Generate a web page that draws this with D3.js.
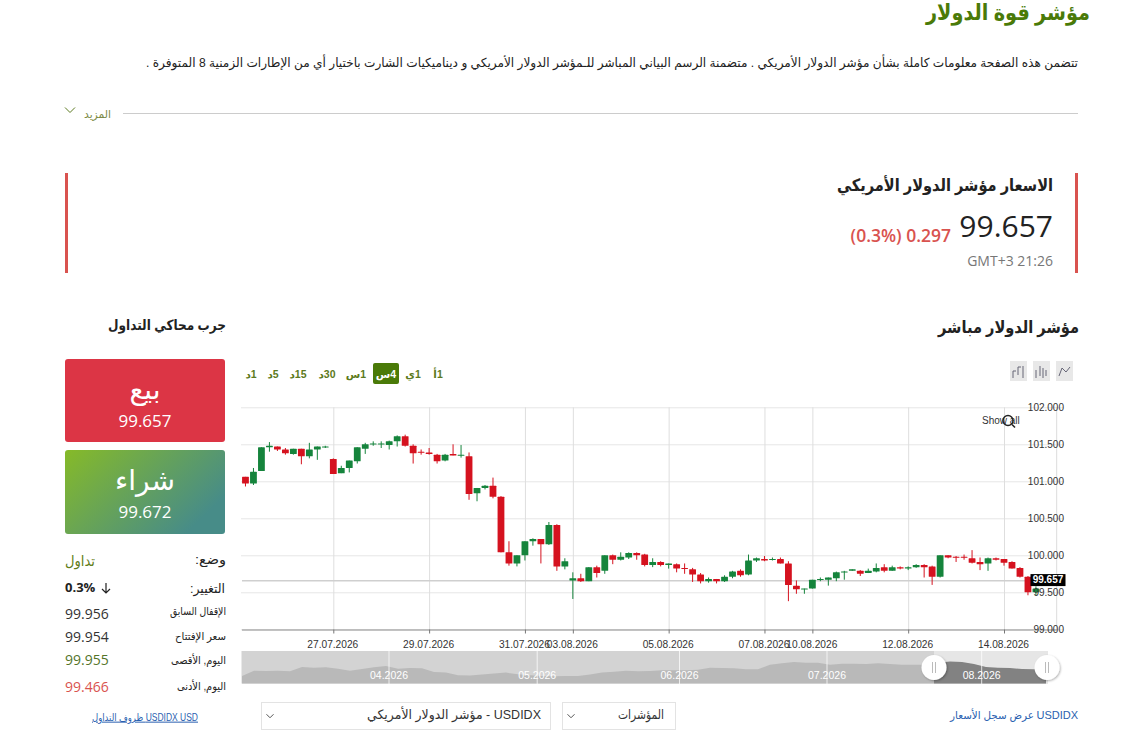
<!DOCTYPE html>
<html lang="ar"><head><meta charset="utf-8">
<script src="https://cdn.jsdelivr.net/npm/d3@7/dist/d3.min.js"></script>
<style>html,body{margin:0;padding:0;background:#fff;overflow:hidden}svg{display:block}</style>
</head><body><svg id="c" width="1123" height="736"></svg>
<script>
// ---------- data ----------
const candleOpen=[101.06,100.97,101.14,101.46,101.47,101.43,101.37,101.44,101.34,101.43,101.46,101.30,101.11,101.18,101.27,101.44,101.50,101.50,101.49,101.54,101.61,101.48,101.40,101.39,101.36,101.28,101.37,101.35,101.34,100.84,100.91,100.94,100.79,100.04,99.89,100.00,100.19,100.22,100.15,100.41,99.85,99.66,99.69,99.65,99.84,99.79,100.00,99.94,99.97,100.03,100.01,99.87,99.91,99.87,99.88,99.83,99.81,99.74,99.65,99.68,99.65,99.71,99.79,99.74,99.93,99.95,99.94,99.95,99.89,99.59,99.54,99.55,99.67,99.67,99.69,99.77,99.79,99.79,99.76,99.78,99.84,99.79,99.84,99.82,99.84,99.87,99.85,99.71,100.00,99.98,99.98,99.96,99.91,99.89,99.96,99.95,99.91,99.83,99.71,99.50];
const candleHigh=[101.06,101.18,101.46,101.53,101.47,101.45,101.44,101.44,101.52,101.47,101.48,101.31,101.21,101.28,101.46,101.52,101.54,101.54,101.55,101.62,101.63,101.50,101.43,101.45,101.37,101.37,101.50,101.49,101.39,100.91,100.95,101.05,100.80,100.19,100.00,100.19,100.23,100.22,100.45,100.42,99.96,99.77,99.75,99.84,99.86,100.00,100.01,100.04,100.04,100.04,100.02,99.96,99.92,99.89,99.89,99.89,99.83,99.76,99.70,99.68,99.73,99.79,99.81,100.01,99.97,99.99,99.97,99.97,99.92,99.66,99.55,99.67,99.70,99.70,99.78,99.79,99.81,99.80,99.82,99.89,99.88,99.86,99.85,99.85,99.88,99.88,99.86,100.00,100.00,99.99,100.01,100.07,99.97,99.97,99.97,99.95,99.92,99.84,99.72,99.58];
const candleLow=[100.93,100.95,101.14,101.40,101.41,101.36,101.36,101.23,101.31,101.29,101.45,101.10,101.11,101.12,101.24,101.37,101.48,101.45,101.43,101.47,101.47,101.24,101.36,101.36,101.24,101.27,101.35,101.32,100.75,100.73,100.89,100.77,100.04,99.86,99.85,99.93,100.13,99.89,100.14,99.79,99.81,99.41,99.64,99.65,99.70,99.75,99.88,99.93,99.95,99.94,99.85,99.84,99.85,99.82,99.77,99.75,99.64,99.62,99.63,99.62,99.64,99.69,99.71,99.73,99.91,99.92,99.93,99.89,99.38,99.48,99.48,99.55,99.65,99.59,99.65,99.67,99.79,99.72,99.76,99.77,99.77,99.79,99.81,99.80,99.83,99.70,99.60,99.70,99.96,99.91,99.94,99.89,99.80,99.79,99.93,99.86,99.82,99.70,99.46,99.46];
const candleClose=[100.97,101.13,101.46,101.48,101.43,101.38,101.44,101.34,101.43,101.47,101.47,101.10,101.18,101.28,101.46,101.50,101.51,101.51,101.54,101.61,101.48,101.38,101.39,101.37,101.27,101.36,101.35,101.36,100.83,100.91,100.94,100.79,100.04,99.89,100.00,100.19,100.22,100.15,100.41,99.85,99.92,99.69,99.65,99.84,99.76,100.00,99.94,99.98,100.03,100.00,99.87,99.91,99.87,99.89,99.82,99.82,99.74,99.65,99.68,99.65,99.71,99.78,99.73,99.93,99.96,99.93,99.95,99.89,99.60,99.54,99.55,99.67,99.68,99.70,99.77,99.78,99.81,99.75,99.79,99.83,99.79,99.84,99.82,99.84,99.87,99.84,99.71,100.00,99.97,99.97,99.97,99.90,99.88,99.96,99.94,99.90,99.82,99.71,99.50,99.55];
const xTickIndex=[11,23,35,41,53,65,71,83,95];
const xTickLabels=["27.07.2026","29.07.2026","31.07.2026","03.08.2026","05.08.2026","07.08.2026","10.08.2026","12.08.2026","14.08.2026"];
const yTicks=[99,99.5,100,100.5,101,101.5,102];
const lastPrice=99.657;
const navValues=[98.10,99.35,99.27,99.35,99.19,100.21,100.05,100.13,99.82,99.35,99.74,100.13,100.44,99.82,99.97,99.89,99.03,98.88,98.25,98.18,98.41,98.64,98.88,98.49,98.25,98.10,98.02,98.10,98.10,98.41,98.88,99.11,99.35,99.19,99.27,99.43,99.43,99.43,99.58,100.05,99.97,99.89,99.66,99.66,100.75,101.07,101.38,101.22,101.22,100.75,100.99,100.99,100.91,101.07,100.91,100.75,100.75,100.75,101.22,101.53,101.38,100.91,100.21,100.05,99.97,99.74,99.66,99.82];
const navMonthIndex=[12.25,24.6,36.46,48.75,61.64];
const navMonthLabels=["04.2026","05.2026","06.2026","07.2026","08.2026"];
const periods=["1د","5د","15د","30د","1س","4س","1ي","1أ"];
const statLabels=["الإقفال السابق","سعر الإفتتاح","اليوم, الأقصى","اليوم, الأدنى"];
const statValues=["99.956","99.954","99.955","99.466"];

// ---------- helpers ----------
const svg=d3.select("#c");
const AR="'Liberation Sans','DejaVu Sans',sans-serif", OS="'Open Sans',sans-serif";
function ar(x,y,s,o={}){ // right aligned Arabic
  const t=svg.append("text").attr("x",x).attr("y",y+1).attr("direction","rtl").attr("text-anchor",o.anchor||"start")
   .attr("dominant-baseline","middle").attr("font-family",AR).attr("font-size",o.size||12)
   .attr("font-weight",o.weight||"normal").attr("fill",o.fill||"#222").text(s);
  if(o.len)t.attr("textLength",o.len).attr("lengthAdjust","spacingAndGlyphs");
  return t;
}
function la(x,y,s,o={}){
  return svg.append("text").attr("x",x).attr("y",o.font?y:y+1).attr("text-anchor",o.anchor||"start")
   .attr("dominant-baseline","middle").attr("font-family",o.font||OS).attr("font-size",o.size||14)
   .attr("font-weight",o.weight||"normal").attr("fill",o.fill||"#222").text(s);
}
function chev(x,y,w,c){svg.append("path").attr("d",`M${x-w},${y-w/2}L${x},${y+w/2}L${x+w},${y-w/2}`).attr("fill","none").attr("stroke",c).attr("stroke-width",1);}

// ---------- header ----------
ar(1090,13,"مؤشر قوة الدولار",{size:22,weight:"bold",fill:"#4a7a08",len:164});
ar(1078,63,"تتضمن هذه الصفحة معلومات كاملة بشأن مؤشر الدولار الأمريكي . متضمنة الرسم البياني المباشر للـمؤشر الدولار الأمريكي و ديناميكيات الشارت باختيار أي من الإطارات الزمنية 8 المتوفرة .",{size:12.5,fill:"#222",len:932});
svg.append("line").attr("x1",123).attr("x2",1078).attr("y1",113.5).attr("y2",113.5).attr("stroke","#ccc");
ar(111,114,"المزيد",{size:11,fill:"#7d8a45",len:27});
chev(70,110,5,"#5c7a20");

// ---------- price box ----------
svg.append("rect").attr("x",65).attr("y",173).attr("width",3).attr("height",100).attr("fill","#d9534f");
svg.append("rect").attr("x",1075).attr("y",173).attr("width",3).attr("height",100).attr("fill","#d9534f");
ar(1053,186,"الاسعار مؤشر الدولار الأمريكي",{size:17,weight:"bold",fill:"#222",len:216});
la(1053,228,"99.657",{anchor:"end",size:30,fill:"#222"});
la(951,236,"(0.3%) 0.297",{anchor:"end",size:17.5,weight:"600",fill:"#d9534f"});
la(1053,261,"GMT+3 21:26",{anchor:"end",size:14,fill:"#777"});

// ---------- side panel ----------
ar(1079,328,"مؤشر الدولار مباشر",{size:17,weight:"bold",fill:"#222",len:141});
ar(226,325,"جرب محاكي التداول",{size:14,weight:"bold",fill:"#222",len:118});
const grad=svg.append("defs").append("linearGradient").attr("id","buy").attr("x1","0").attr("y1","0").attr("x2","1").attr("y2","0.55");
grad.append("stop").attr("offset","0").attr("stop-color","#86ba28");
grad.append("stop").attr("offset","1").attr("stop-color","#478c88");
svg.append("rect").attr("x",65).attr("y",359).attr("width",160).attr("height",83).attr("rx",3).attr("fill","#dc3545");
svg.append("rect").attr("x",65).attr("y",450).attr("width",160).attr("height",84).attr("rx",3).attr("fill","url(#buy)");
ar(145,390,"بيع",{anchor:"middle",size:28,fill:"#fff"}).attr("font-family","'DejaVu Sans',sans-serif");
la(145,421,"99.657",{anchor:"middle",size:17,fill:"#fff"});
ar(145,481,"شراء",{anchor:"middle",size:28,fill:"#fff"}).attr("font-family","'DejaVu Sans',sans-serif");
la(145,512,"99.672",{anchor:"middle",size:17,fill:"#fff"});
ar(226,560,"وضع:",{size:13,fill:"#222",len:31});
la(65,561,"تداول",{size:15,fill:"#5f7d18",font:"'DejaVu Sans',sans-serif"}).attr("textLength",30).attr("lengthAdjust","spacingAndGlyphs");
ar(225,589,"التغيير:",{size:13,fill:"#222",len:35});
la(65,588,"0.3%",{size:13,weight:"bold",fill:"#222"});
svg.append("path").attr("d","M106,583V593M102,589L106,593L110,589").attr("fill","none").attr("stroke","#222").attr("stroke-width",1.2);
const statY=[611,636,660,686],statValY=[614,637,660,687],statCol=["#333","#333","#54742a","#d9534f"],statLen=[56,51,55,49];
statLabels.forEach((s,i)=>{ar(226,statY[i],s,{size:11,fill:"#222",len:statLen[i]});la(65,statValY[i],statValues[i],{size:14,fill:statCol[i]});});
ar(198,717,"USDIDX USD ظروف التداول",{size:10,fill:"#2a5fb0",len:106}).attr("text-decoration","underline");

// ---------- toolbar ----------
const periodX=[251,273,298,327,356,386,413,438];
svg.append("rect").attr("x",373).attr("y",363).attr("width",26).attr("height",21).attr("rx",2).attr("fill","#4a7a08");
periods.forEach((p,i)=>ar(periodX[i],374,p,{anchor:"middle",size:10.5,weight:"bold",fill:i==5?"#fff":"#5c7a20"}));
[1010,1033,1056].forEach((x,i)=>{
  svg.append("rect").attr("x",x).attr("y",361).attr("width",17).attr("height",20).attr("fill","#e8e8e8");
  const d=[`M${x+3},378V371M${x+3},371H${x+6}M${x+8},375V367M${x+8},367H${x+11}M${x+13},378V366`,`M${x+3},378V370M${x+7},376V366M${x+10},378V368M${x+13},376V370`,`M${x+3},376L${x+6},368L${x+10},372L${x+14},367`][i];
  svg.append("path").attr("d",d).attr("fill","none").attr("stroke","#667").attr("stroke-width",1);
});

// ---------- main chart ----------
const x=d3.scaleLinear().domain([11,95]).range([333.3,1004]);
const y=d3.scaleLinear().domain([99,102]).range([629.3,407.3]);
const gridY=svg.append("g").attr("transform","translate(241,0)")
  .call(d3.axisRight(y).tickValues(yTicks).tickSize(823).tickFormat(""));
gridY.select(".domain").remove();
gridY.selectAll("line").attr("stroke","#e6e6e6");
const gridX=svg.append("g").attr("transform","translate(0,407.3)")
  .call(d3.axisBottom(x).tickValues(xTickIndex).tickSize(222).tickFormat(""));
gridX.select(".domain").remove();
gridX.selectAll("line").attr("stroke","#dedede");
svg.append("line").attr("x1",1056.7).attr("x2",1056.7).attr("y1",407).attr("y2",630).attr("stroke","#dcdcdc");
svg.append("line").attr("x1",242).attr("x2",1056).attr("y1",y(lastPrice)).attr("y2",y(lastPrice)).attr("stroke","#cfcfcf").attr("stroke-width",1.6);

const cg=svg.append("g");
const data=candleOpen.map((o,i)=>({i,o,h:candleHigh[i],l:candleLow[i],c:candleClose[i]}));
const col=d=>d.c>=d.o?"#15843c":"#d5121f";
cg.selectAll("line").data(data).join("line").attr("x1",d=>x(d.i)).attr("x2",d=>x(d.i))
  .attr("y1",d=>y(d.h)).attr("y2",d=>y(d.l)).attr("stroke",col).attr("stroke-width",1);
cg.selectAll("rect").data(data).join("rect").attr("x",d=>x(d.i)-3.4).attr("width",6.8)
  .attr("y",d=>y(Math.max(d.o,d.c))).attr("height",d=>Math.max(1,Math.abs(y(d.o)-y(d.c)))).attr("fill",col).attr("rx",.5);

const axB=svg.append("g").attr("transform","translate(0,629.5)")
  .call(d3.axisBottom(x).tickValues(xTickIndex).tickSize(4).tickPadding(7).tickFormat((d,i)=>xTickLabels[i]));
axB.select(".domain").attr("d","M242,0.5H1057").attr("stroke","#8c8c8c");
axB.selectAll("line").attr("stroke","#777");
axB.selectAll("text").attr("font-family","'Liberation Sans',sans-serif").attr("font-size",10.2).attr("fill","#333").attr("dx",-1);
const axR=svg.append("g").attr("transform","translate(1064,0)")
  .call(d3.axisLeft(y).tickValues(yTicks).tickSize(0).tickPadding(0).tickFormat(d3.format(".3f")));
axR.select(".domain").remove();
axR.selectAll("text").attr("font-family","'Liberation Sans',sans-serif").attr("font-size",10).attr("fill","#333");

svg.append("rect").attr("x",1030.5).attr("y",y(lastPrice)-6.6).attr("width",35).attr("height",12).attr("fill","#000");
la(1048,y(lastPrice)-0.4,d3.format(".3f")(lastPrice),{anchor:"middle",size:10,weight:"bold",fill:"#fff",font:"'Liberation Sans',sans-serif"});
la(982,421,"Show all",{size:10,fill:"#333",font:"'Liberation Sans',sans-serif"});
svg.append("circle").attr("cx",1008).attr("cy",420.5).attr("r",5).attr("fill","none").attr("stroke","#222").attr("stroke-width",1.4);
svg.append("line").attr("x1",1012).attr("y1",424.5).attr("x2",1015).attr("y2",427.5).attr("stroke","#222").attr("stroke-width",1.6);

// ---------- navigator ----------
const nx=d3.scaleLinear().domain([0,navValues.length-1]).range([242,1046]);
const ny=d3.scaleLinear().domain([96.3,104]).range([683.5,651]);
const defs=svg.select("defs");
defs.append("clipPath").attr("id","sel").append("rect").attr("x",934).attr("y",651).attr("width",114).attr("height",33);
const navArea=d3.area().x((d,i)=>nx(i)).y0(683.5).y1(d=>ny(d)).curve(d3.curveLinear);
function nav(bg,fg,clip){
  const g=svg.append("g"); if(clip)g.attr("clip-path","url(#sel)");
  g.append("rect").attr("x",241.5).attr("y",651).attr("width",806.5).attr("height",32.5).attr("fill",bg);
  g.append("path").datum(navValues).attr("d",navArea).attr("fill",fg);
}
nav("#d3d3d3","#b9b9b9",false);
nav("#e6e6e6","#828282",true);
navMonthIndex.forEach((m,i)=>{
  svg.append("line").attr("x1",nx(m)).attr("x2",nx(m)).attr("y1",651).attr("y2",684).attr("stroke","#fff").attr("stroke-opacity",.75);
  la(nx(m),676,navMonthLabels[i],{anchor:"middle",size:10.5,fill:"#fff",font:"'Liberation Sans',sans-serif"});
});
const sh=defs.append("filter").attr("id","shd").attr("x","-40%").attr("y","-40%").attr("width","180%").attr("height","180%");
sh.append("feDropShadow").attr("dx",1).attr("dy",1).attr("stdDeviation",1.2).attr("flood-color","#000").attr("flood-opacity",.3);
[934,1047].forEach(h=>{
  svg.append("circle").attr("cx",h).attr("cy",667.5).attr("r",12.5).attr("fill","#fff").attr("filter","url(#shd)");
  svg.append("path").attr("d",`M${h-1.5},662V673M${h+1.5},662V673`).attr("stroke","#bbb").attr("fill","none");
});

// ---------- bottom controls ----------
[[261,289],[562,113]].forEach(([a,w])=>{
  svg.append("rect").attr("x",a+.5).attr("y",702.5).attr("width",w).attr("height",27).attr("fill","#fff").attr("stroke","#e3e3e3");
  chev(a+9,716,3.5,"#555");
});
ar(541,715,"USDIDX - مؤشر الدولار الأمريكي",{size:13,fill:"#333",len:174});
ar(664,715,"المؤشرات",{size:13,fill:"#333",len:46});
la(1078,716,"USDIDX",{anchor:"end",size:11,fill:"#2a5fb0",font:"'Liberation Sans',sans-serif"});
ar(1034,715,"عرض سجل الأسعار",{size:11,fill:"#2a5fb0",len:84});
</script></body></html>
